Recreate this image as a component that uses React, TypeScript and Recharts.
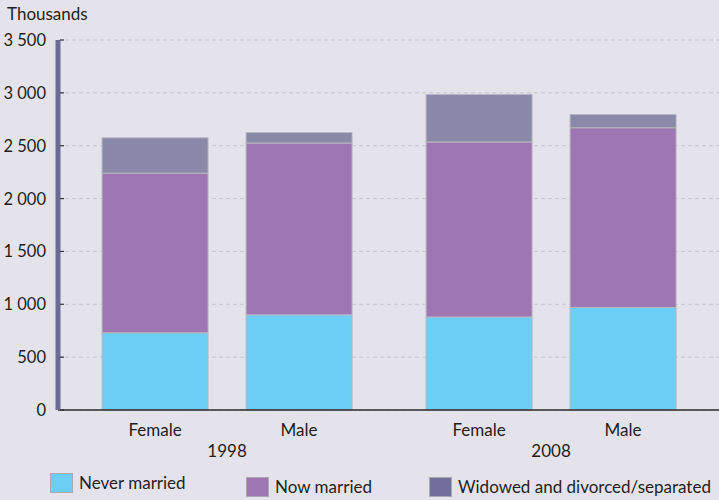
import React from 'react';
import { BarChart, Bar, XAxis, YAxis, CartesianGrid, Legend } from 'recharts';

const categories = ['Female', 'Male', 'Female', 'Male'];
const categoryYear = ['1998', '1998', '2008', '2008'];
const years = ['1998', '2008'];
const neverMarried = [730, 900, 880, 970];
const nowMarried = [1510, 1625, 1655, 1700];
const widowedDivorced = [335, 100, 450, 125];
const yTicks = [0, 500, 1000, 1500, 2000, 2500, 3000, 3500];

const seriesNames = ['Never married', 'Now married', 'Widowed and divorced/separated'];
const barColors = ['#6bcff5', '#9e76b4', '#8a89a9'];
const legendColors = ['#6bcff5', '#9e76b4', '#716e9b'];

const GROUP_GAP = 0.25;

const data = categories.map((c, i) => {
  const g = years.indexOf(categoryYear[i]);
  return {
    pos: i + g * GROUP_GAP,
    name: c,
    year: categoryYear[i],
    never: neverMarried[i],
    now: nowMarried[i],
    widowed: widowedDivorced[i],
  };
});

const catTicks = data.map((d) => d.pos);
const yearTicks = years.map((y) => {
  const ps = data.filter((d) => d.year === y).map((d) => d.pos);
  return (Math.min(...ps) + Math.max(...ps)) / 2;
});

const FONT = 'Lato, "Open Sans", sans-serif';
const TEXT = '#231f20';

const fmt = (v: number) => {
  const s = String(v);
  if (s.length <= 3) return s;
  return s.slice(0, s.length - 3) + ' ' + s.slice(s.length - 3);
};

const YTick = (props: any) => {
  const { y, payload } = props;
  return (
    <g>
      <line x1={60} x2={64} y1={y} y2={y} stroke="#333" strokeWidth={1.2} />
      <text x={46} y={y} dy="0.36em" textAnchor="end" fontSize={16.5} fill={TEXT} fontFamily={FONT} style={{ whiteSpace: 'pre' }}>
        {fmt(payload.value)}
      </text>
    </g>
  );
};

const legendLefts = [50, 246, 429];
const legendTops = [473, 477, 477];

const LegendContent = () => (
  <div style={{ position: 'relative', width: 719, height: 35 }}>
    {seriesNames.map((n, i) => (
      <div
        key={n}
        style={{
          position: 'absolute',
          left: legendLefts[i],
          top: legendTops[i] - 465,
          display: 'flex',
          alignItems: 'center',
          fontFamily: FONT,
          fontSize: 17,
          color: TEXT,
          whiteSpace: 'nowrap',
        }}
      >
        <span
          style={{
            display: 'inline-block',
            width: 21,
            height: 18,
            background: legendColors[i],
            border: '1px solid #a9a7b0',
            marginRight: 6,
          }}
        />
        <span style={{ lineHeight: '20px' }}>{n}</span>
      </div>
    ))}
  </div>
);

export default function App() {
  return (
    <div style={{ position: 'fixed', left: 0, top: 0, width: 719, height: 500, background: '#e4e3eb' }}>
      <div
        style={{
          position: 'absolute',
          left: 7,
          top: 3,
          fontFamily: FONT,
          fontSize: 17,
          color: TEXT,
          lineHeight: '22px',
        }}
      >
        Thousands
      </div>
      <BarChart
        width={719}
        height={500}
        data={data}
        margin={{ top: 40, right: 0, bottom: 0, left: 0 }}
        barSize={106}
      >
        <CartesianGrid vertical={false} stroke="#c6c5ce" strokeDasharray="4 3" />
        <XAxis
          dataKey="pos"
          type="number"
          domain={[-0.674, 3.916]}
          allowDataOverflow
          ticks={catTicks}
          tickFormatter={(v: number) => {
            const d = data.find((x) => Math.abs(x.pos - v) < 1e-6);
            return d ? d.name : '';
          }}
          interval={0}
          height={31}
          tickLine={false}
          tickSize={0}
          tickMargin={14}
          axisLine={{ stroke: '#2b2b2b', strokeWidth: 1.4 }}
          tick={{ fontSize: 17, fill: TEXT, fontFamily: FONT }}
        />
        <XAxis
          xAxisId="year"
          dataKey="pos"
          type="number"
          domain={[-0.674, 3.916]}
          allowDataOverflow
          ticks={yearTicks}
          tickFormatter={(v: number) => {
            const idx = yearTicks.findIndex((t) => Math.abs(t - v) < 1e-6);
            return idx >= 0 ? years[idx] : '';
          }}
          interval={0}
          height={24}
          tickLine={false}
          tickSize={0}
          tickMargin={4}
          axisLine={false}
          tick={{ fontSize: 17, fill: TEXT, fontFamily: FONT }}
        />
        <YAxis
          width={58}
          domain={[0, 3500]}
          ticks={yTicks}
          interval={0}
          tickLine={false}
          axisLine={{ stroke: '#6e6a98', strokeWidth: 5 }}
          tick={<YTick />}
        />
        <Legend verticalAlign="bottom" height={35} content={<LegendContent />} wrapperStyle={{ left: 0, width: 719 }} />
        <Bar dataKey="never" name={seriesNames[0]} stackId="a" fill={barColors[0]} stroke="#b8b6c0" strokeWidth={1} isAnimationActive={false} />
        <Bar dataKey="now" name={seriesNames[1]} stackId="a" fill={barColors[1]} stroke="#b8b6c0" strokeWidth={1} isAnimationActive={false} />
        <Bar dataKey="widowed" name={seriesNames[2]} stackId="a" fill={barColors[2]} stroke="#b8b6c0" strokeWidth={1} isAnimationActive={false} />
      </BarChart>
    </div>
  );
}
